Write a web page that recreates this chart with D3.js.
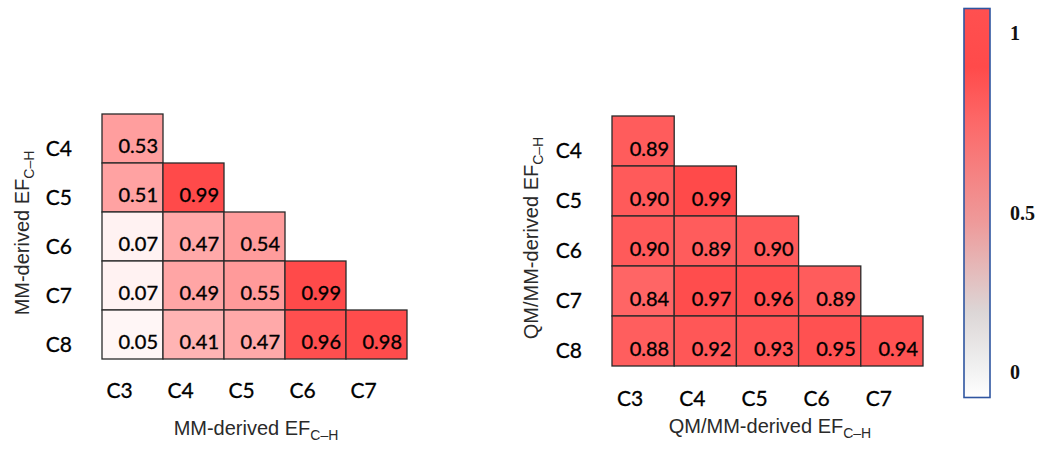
<!DOCTYPE html>
<html><head><meta charset="utf-8">
<script src="https://cdn.jsdelivr.net/npm/d3@7"></script>
<style>body{margin:0;background:#fff}svg{display:block}</style>
</head><body>
<svg id="chart" width="1050" height="450"></svg>
<script>
const rowLabels = ["C4","C5","C6","C7","C8"];
const colLabels = ["C3","C4","C5","C6","C7"];
const mmValues = [
  [0.53],
  [0.51,0.99],
  [0.07,0.47,0.54],
  [0.07,0.49,0.55,0.99],
  [0.05,0.41,0.47,0.96,0.98]
];
const qmValues = [
  [0.89],
  [0.90,0.99],
  [0.90,0.89,0.90],
  [0.84,0.97,0.96,0.89],
  [0.88,0.92,0.93,0.95,0.94]
];
const colorbarTicks = [0, 0.5, 1];
const colorbarTickLabels = ["0","0.5","1"];

const svg = d3.select("#chart");
const color = d3.scaleLinear().domain([0,1]).range(["#ffffff","#ff4848"]);

function panel(cfg){
  const x = d3.scaleBand().domain(colLabels).range([cfg.x0, cfg.x1]).padding(0);
  const y = d3.scaleBand().domain(rowLabels).range([cfg.y0, cfg.y1]).padding(0);
  const g = svg.append("g");
  const cells = [];
  cfg.values.forEach((row,i)=>row.forEach((v,j)=>cells.push({r:rowLabels[i],c:colLabels[j],v})));
  g.selectAll("rect.cell").data(cells).join("rect")
    .attr("class","cell")
    .attr("x",d=>x(d.c)).attr("y",d=>y(d.r))
    .attr("width",x.bandwidth()).attr("height",y.bandwidth())
    .attr("fill",d=>color(d.v))
    .attr("stroke","#2a2a2a").attr("stroke-width",1.3);
  g.selectAll("text.val").data(cells).join("text")
    .attr("class","val")
    .attr("x",d=>x(d.c)+x.bandwidth()-5)
    .attr("y",d=>y(d.r)+y.bandwidth()-10)
    .attr("text-anchor","end")
    .attr("font-family","Lato, 'Open Sans', sans-serif")
    .attr("font-size",20)
    .attr("fill","#000").attr("stroke","#000").attr("stroke-width",0.35)
    .text(d=>d.v.toFixed(2));
  // y tick labels
  g.selectAll("text.yt").data(rowLabels).join("text")
    .attr("class","yt")
    .attr("x",cfg.ytx)
    .attr("y",d=>y(d)+y.bandwidth()/2+10+7)
    .attr("text-anchor","end")
    .attr("font-family","Lato, 'Open Sans', sans-serif")
    .attr("font-size",21)
    .attr("fill","#000").attr("stroke","#000").attr("stroke-width",0.3)
    .text(d=>d);
  // x tick labels
  g.selectAll("text.xt").data(colLabels).join("text")
    .attr("class","xt")
    .attr("x",d=>x(d)+x.bandwidth()/2-13)
    .attr("y",cfg.xty)
    .attr("text-anchor","middle")
    .attr("font-family","Lato, 'Open Sans', sans-serif")
    .attr("font-size",21)
    .attr("fill","#000").attr("stroke","#000").attr("stroke-width",0.3)
    .text(d=>d);
  // titles
  function title(sel, label){
    sel.attr("font-family","'Liberation Sans', Arial, sans-serif")
      .attr("font-size",20).attr("fill","#2a2a2a");
    sel.append("tspan").text(label + " EF");
    sel.append("tspan").attr("font-size",14).attr("dy",5).text("C–H");
  }
  const xt = g.append("text").attr("x",cfg.xtitleX).attr("y",cfg.xtitleY).attr("text-anchor","middle");
  title(xt, cfg.label);
  const yt = g.append("text").attr("transform",`translate(${cfg.ytitleX},${cfg.ytitleY}) rotate(-90)`).attr("text-anchor","middle");
  title(yt, cfg.label);
}

panel({values:mmValues,label:"MM-derived",x0:102,x1:407,y0:114,y1:359,ytx:72,xty:398,xtitleX:256,xtitleY:435,ytitleX:29,ytitleY:233});
panel({values:qmValues,label:"QM/MM-derived",x0:612,x1:923,y0:116,y1:366,ytx:582,xty:406,xtitleX:770,xtitleY:433,ytitleX:538,ytitleY:238});

// colorbar
const defs = svg.append("defs");
const grad = defs.append("linearGradient").attr("id","cb").attr("x1",0).attr("y1",1).attr("x2",0).attr("y2",0);
const stops = [[0,"#ffffff"],[0.08,"#f0f0f0"],[0.22,"#dcd6d6"],[0.45,"#ee9a9a"],[0.7,"#fc6a6a"],[0.85,"#ff4a4a"],[1,"#ff5050"]];
grad.selectAll("stop").data(stops).join("stop").attr("offset",d=>d[0]).attr("stop-color",d=>d[1]);
svg.append("rect").attr("x",964).attr("y",8.5).attr("width",26).attr("height",389)
  .attr("fill","url(#cb)").attr("stroke","#2f55a0").attr("stroke-width",1.6);
const cbScale = d3.scaleLinear().domain([0,0.5,1]).range([372,213,33]);
svg.selectAll("text.cbt").data(colorbarTicks).join("text")
  .attr("class","cbt")
  .attr("x",1010).attr("y",d=>cbScale(d)+7)
  .attr("font-family","'Liberation Serif', 'Times New Roman', serif")
  .attr("font-weight","bold").attr("font-size",20).attr("fill","#111")
  .text((d,i)=>colorbarTickLabels[i]);
</script>
</body></html>
